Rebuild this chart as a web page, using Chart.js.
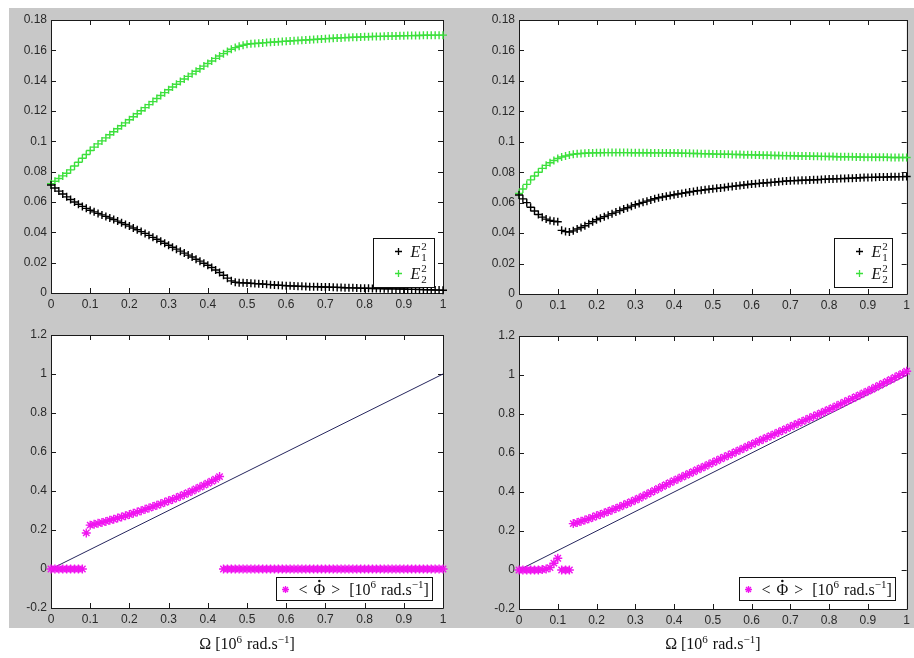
<!DOCTYPE html>
<html>
<head>
<meta charset="utf-8">
<script src="https://cdn.jsdelivr.net/npm/chart.js@4/dist/chart.umd.min.js"></script>
<style>
  html, body { margin: 0; padding: 0; background: #fff; }
  #page { position: relative; width: 914px; height: 658px; overflow: hidden; }
  #bg { position: absolute; left: 9px; top: 8px; width: 905px; height: 620px; background: #c8c8c8; }
  canvas { position: absolute; left: 0; top: 0; }
</style>
</head>
<body>
<div id="page">
  <div id="bg"></div>
  <canvas id="tl" width="914" height="658"></canvas>
  <canvas id="tr" width="914" height="658"></canvas>
  <canvas id="bl" width="914" height="658"></canvas>
  <canvas id="br" width="914" height="658"></canvas>
</div>
<script>
// Omega [10^6 rad/s], shared by every series
const omega = [
  0.00, 0.01, 0.02, 0.03, 0.04, 0.05, 0.06, 0.07, 0.08, 0.09,
  0.10, 0.11, 0.12, 0.13, 0.14, 0.15, 0.16, 0.17, 0.18, 0.19,
  0.20, 0.21, 0.22, 0.23, 0.24, 0.25, 0.26, 0.27, 0.28, 0.29,
  0.30, 0.31, 0.32, 0.33, 0.34, 0.35, 0.36, 0.37, 0.38, 0.39,
  0.40, 0.41, 0.42, 0.43, 0.44, 0.45, 0.46, 0.47, 0.48, 0.49,
  0.50, 0.51, 0.52, 0.53, 0.54, 0.55, 0.56, 0.57, 0.58, 0.59,
  0.60, 0.61, 0.62, 0.63, 0.64, 0.65, 0.66, 0.67, 0.68, 0.69,
  0.70, 0.71, 0.72, 0.73, 0.74, 0.75, 0.76, 0.77, 0.78, 0.79,
  0.80, 0.81, 0.82, 0.83, 0.84, 0.85, 0.86, 0.87, 0.88, 0.89,
  0.90, 0.91, 0.92, 0.93, 0.94, 0.95, 0.96, 0.97, 0.98, 0.99, 1.00
];

// top left: E1^2, E2^2
const e1Left = [
  0.0712, 0.0692, 0.0672, 0.0653, 0.0634, 0.0616, 0.0600, 0.0585, 0.0571, 0.0558,
  0.0546, 0.0535, 0.0525, 0.0515, 0.0505, 0.0495, 0.0485, 0.0474, 0.0463, 0.0452,
  0.0441, 0.0429, 0.0417, 0.0405, 0.0393, 0.0380, 0.0367, 0.0354, 0.0341, 0.0328,
  0.0315, 0.0302, 0.0289, 0.0276, 0.0263, 0.0250, 0.0237, 0.0223, 0.0210, 0.0196,
  0.0183, 0.0168, 0.0152, 0.0135, 0.0117, 0.0098, 0.0080, 0.0071, 0.0068, 0.0067,
  0.0066, 0.0064, 0.0062, 0.0061, 0.0059, 0.0057, 0.0055, 0.0053, 0.0051, 0.0050,
  0.0048, 0.0047, 0.0046, 0.0045, 0.0044, 0.0043, 0.0042, 0.0042, 0.0041, 0.0040,
  0.0040, 0.0039, 0.0038, 0.0037, 0.0036, 0.0035, 0.0034, 0.0034, 0.0033, 0.0032,
  0.0031, 0.0031, 0.0030, 0.0029, 0.0029, 0.0028, 0.0028, 0.0027, 0.0027, 0.0026,
  0.0026, 0.0025, 0.0024, 0.0024, 0.0023, 0.0022, 0.0021, 0.0021, 0.0020, 0.0019, 0.0018
];
const e2Left = [
  0.0720, 0.0737, 0.0755, 0.0772, 0.0790, 0.0812, 0.0837, 0.0862, 0.0888, 0.0913,
  0.0940, 0.0962, 0.0983, 0.1003, 0.1023, 0.1043, 0.1063, 0.1083, 0.1103, 0.1122,
  0.1142, 0.1162, 0.1182, 0.1202, 0.1222, 0.1242, 0.1262, 0.1282, 0.1302, 0.1321,
  0.1340, 0.1358, 0.1376, 0.1394, 0.1411, 0.1428, 0.1445, 0.1462, 0.1479, 0.1496,
  0.1513, 0.1530, 0.1547, 0.1563, 0.1578, 0.1592, 0.1607, 0.1618, 0.1627, 0.1634,
  0.1640, 0.1643, 0.1645, 0.1647, 0.1649, 0.1651, 0.1653, 0.1655, 0.1657, 0.1659,
  0.1660, 0.1662, 0.1664, 0.1665, 0.1667, 0.1668, 0.1670, 0.1671, 0.1673, 0.1675,
  0.1677, 0.1678, 0.1680, 0.1681, 0.1682, 0.1684, 0.1685, 0.1686, 0.1687, 0.1688,
  0.1689, 0.1690, 0.1691, 0.1692, 0.1692, 0.1693, 0.1694, 0.1694, 0.1695, 0.1696,
  0.1696, 0.1697, 0.1697, 0.1698, 0.1698, 0.1699, 0.1699, 0.1700, 0.1700, 0.1700, 0.1700
];

// top right: E1^2, E2^2
const e1Right = [
  0.0650, 0.0625, 0.0600, 0.0570, 0.0545, 0.0522, 0.0505, 0.0492, 0.0483, 0.0478,
  0.0475, 0.0418, 0.0410, 0.0407, 0.0415, 0.0427, 0.0437, 0.0448, 0.0462, 0.0475,
  0.0488, 0.0498, 0.0508, 0.0518, 0.0528, 0.0538, 0.0548, 0.0558, 0.0567, 0.0577,
  0.0586, 0.0594, 0.0602, 0.0610, 0.0618, 0.0626, 0.0632, 0.0637, 0.0642, 0.0647,
  0.0652, 0.0657, 0.0661, 0.0665, 0.0670, 0.0674, 0.0678, 0.0681, 0.0685, 0.0688,
  0.0691, 0.0694, 0.0697, 0.0700, 0.0704, 0.0707, 0.0710, 0.0713, 0.0716, 0.0719,
  0.0722, 0.0724, 0.0727, 0.0729, 0.0731, 0.0733, 0.0735, 0.0737, 0.0740, 0.0742,
  0.0744, 0.0745, 0.0746, 0.0747, 0.0748, 0.0749, 0.0750, 0.0751, 0.0753, 0.0754,
  0.0755, 0.0756, 0.0757, 0.0758, 0.0759, 0.0760, 0.0761, 0.0762, 0.0764, 0.0765,
  0.0766, 0.0766, 0.0767, 0.0768, 0.0768, 0.0769, 0.0770, 0.0770, 0.0771, 0.0771, 0.0772
];
const e2Right = [
  0.0660, 0.0690, 0.0720, 0.0750, 0.0775, 0.0800, 0.0825, 0.0845, 0.0862, 0.0877,
  0.0890, 0.0900, 0.0907, 0.0913, 0.0918, 0.0921, 0.0923, 0.0925, 0.0926, 0.0927,
  0.0928, 0.0928, 0.0929, 0.0929, 0.0929, 0.0929, 0.0929, 0.0929, 0.0929, 0.0928,
  0.0928, 0.0928, 0.0928, 0.0928, 0.0927, 0.0927, 0.0927, 0.0927, 0.0927, 0.0927,
  0.0927, 0.0926, 0.0925, 0.0925, 0.0924, 0.0923, 0.0923, 0.0922, 0.0921, 0.0921,
  0.0920, 0.0919, 0.0919, 0.0918, 0.0918, 0.0917, 0.0916, 0.0916, 0.0915, 0.0915,
  0.0914, 0.0913, 0.0913, 0.0912, 0.0912, 0.0911, 0.0910, 0.0910, 0.0909, 0.0909,
  0.0908, 0.0908, 0.0907, 0.0907, 0.0906, 0.0906, 0.0905, 0.0905, 0.0904, 0.0904,
  0.0903, 0.0903, 0.0902, 0.0902, 0.0902, 0.0901, 0.0901, 0.0900, 0.0900, 0.0899,
  0.0899, 0.0899, 0.0898, 0.0898, 0.0898, 0.0898, 0.0897, 0.0897, 0.0897, 0.0897, 0.0897
];

// bottom: <dPhi/dt>
const phiLeft = [
  0, 0, 0, 0, 0, 0, 0, 0, 0, 0.185,
  0.225, 0.229, 0.234, 0.239, 0.244, 0.250, 0.255, 0.261, 0.267, 0.273,
  0.279, 0.286, 0.292, 0.299, 0.306, 0.313, 0.320, 0.327, 0.334, 0.342,
  0.350, 0.357, 0.365, 0.373, 0.382, 0.391, 0.400, 0.410, 0.420, 0.430,
  0.440, 0.450, 0.460, 0.474, 0, 0, 0, 0, 0, 0,
  0, 0, 0, 0, 0, 0, 0, 0, 0, 0,
  0, 0, 0, 0, 0, 0, 0, 0, 0, 0,
  0, 0, 0, 0, 0, 0, 0, 0, 0, 0,
  0, 0, 0, 0, 0, 0, 0, 0, 0, 0,
  0, 0, 0, 0, 0, 0, 0, 0, 0, 0, 0
];
const phiRight = [
  0, 0, 0, 0, 0, 0, 0.002, 0.005, 0.012, 0.035,
  0.060, 0, 0, 0, 0.238, 0.243, 0.250, 0.256, 0.263, 0.270,
  0.278, 0.285, 0.292, 0.300, 0.308, 0.316, 0.324, 0.333, 0.341, 0.350,
  0.359, 0.368, 0.378, 0.388, 0.398, 0.408, 0.418, 0.428, 0.438, 0.448,
  0.458, 0.467, 0.477, 0.486, 0.495, 0.504, 0.514, 0.523, 0.532, 0.542,
  0.551, 0.560, 0.570, 0.579, 0.588, 0.597, 0.607, 0.616, 0.625, 0.635,
  0.644, 0.653, 0.662, 0.671, 0.680, 0.689, 0.698, 0.707, 0.716, 0.725,
  0.734, 0.743, 0.752, 0.761, 0.770, 0.779, 0.788, 0.796, 0.805, 0.814,
  0.823, 0.832, 0.842, 0.851, 0.861, 0.870, 0.879, 0.889, 0.898, 0.908,
  0.917, 0.927, 0.937, 0.947, 0.957, 0.967, 0.977, 0.988, 0.998, 1.008, 1.019
];

// reference line Omega = <dPhi/dt>
const refX = [0, 1];
const refY = [0, 1];

const xTicks = { min: 0, max: 1, step: 0.1 };
const yTicksTop = { min: 0, max: 0.18, step: 0.02 };
const yTicksBottom = { min: -0.2, max: 1.2, step: 0.2 };

const BLACK = '#000000';
const GREEN = '#3ce03c';
const MAGENTA = '#f014f0';
const NAVY = '#26265e';
const SERIF = '"Liberation Serif", "DejaVu Serif", serif';
const SANS = '"Liberation Sans", Arial, sans-serif';

const pts = (xs, ys) => xs.map((x, i) => ({ x, y: ys[i] }));
const fmt = (v) => String(+(+v).toFixed(2));

// draws a run of text parts, sup/sub scripts included; returns width
function drawRich(ctx, parts, x, y, size, dry) {
  let cx = x;
  for (const p of parts) {
    if (p.gap) { cx += p.gap; continue; }
    const small = Math.round(size * 0.7);
    const s = p.sup ? small : size;
    ctx.font = (p.it ? 'italic ' : '') + s + 'px ' + SERIF;
    let w = ctx.measureText(p.t).width;
    if (!dry) {
      ctx.fillText(p.t, cx, p.sup ? y - size * 0.4 : y);
      if (p.dot) {
        ctx.beginPath();
        ctx.arc(cx + w / 2, y - size * 0.86, size * 0.08, 0, Math.PI * 2);
        ctx.fill();
      }
    }
    if (p.under) {
      ctx.font = small + 'px ' + SERIF;
      w = Math.max(w, ctx.measureText(p.under).width);
      if (!dry) ctx.fillText(p.under, cx, y + size * 0.25);
    }
    cx += w;
  }
  return cx - x;
}

const boxPlugin = {
  id: 'mbox',
  beforeDraw(chart) {
    const { ctx, chartArea: a } = chart;
    ctx.save();
    ctx.fillStyle = '#ffffff';
    ctx.fillRect(a.left, a.top, a.right - a.left, a.bottom - a.top);
    ctx.restore();
  },
  beforeDatasetsDraw(chart) {
    const { ctx, chartArea: a, scales } = chart;
    const L = 5;
    ctx.save();
    ctx.strokeStyle = '#1a1a1a';
    ctx.lineWidth = 1;
    ctx.beginPath();
    ctx.rect(Math.round(a.left) + 0.5, Math.round(a.top) + 0.5,
      Math.round(a.right - a.left), Math.round(a.bottom - a.top));
    scales.x.ticks.forEach((t) => {
      const px = Math.round(scales.x.getPixelForValue(t.value)) + 0.5;
      ctx.moveTo(px, a.bottom); ctx.lineTo(px, a.bottom - L);
      ctx.moveTo(px, a.top); ctx.lineTo(px, a.top + L);
    });
    scales.y.ticks.forEach((t) => {
      const py = Math.round(scales.y.getPixelForValue(t.value)) + 0.5;
      ctx.moveTo(a.left, py); ctx.lineTo(a.left + L, py);
      ctx.moveTo(a.right, py); ctx.lineTo(a.right - L, py);
    });
    ctx.stroke();
    ctx.restore();
  },
  afterDraw(chart) {
    const { ctx, chartArea: a } = chart;
    const lg = chart.options.plugins.mlegend;
    if (lg) {
      const x0 = Math.round(a.right - lg.dr - lg.w) + 0.5;
      const y0 = Math.round(a.bottom - lg.db - lg.h) + 0.5;
      ctx.save();
      ctx.fillStyle = '#ffffff';
      ctx.fillRect(x0, y0, lg.w, lg.h);
      ctx.strokeStyle = '#111111';
      ctx.lineWidth = 1;
      ctx.strokeRect(x0, y0, lg.w, lg.h);
      lg.rows.forEach((r) => {
        ctx.strokeStyle = r.color;
        ctx.fillStyle = r.color;
        ctx.lineWidth = 1.3;
        Chart.helpers.drawPoint(ctx, { pointStyle: r.style, radius: 3.5, rotation: 0, borderWidth: 1.3 },
          x0 + lg.mx, y0 + r.y);
        ctx.fillStyle = '#111111';
        ctx.textBaseline = 'alphabetic';
        drawRich(ctx, r.parts, x0 + lg.tx, y0 + r.y + lg.size * 0.33, lg.size);
      });
      ctx.restore();
    }
    const xt = chart.options.plugins.xtitle;
    if (xt) {
      ctx.save();
      ctx.fillStyle = '#111111';
      ctx.textBaseline = 'alphabetic';
      const w = drawRich(ctx, xt.parts, 0, 0, xt.size, true);
      drawRich(ctx, xt.parts, (a.left + a.right) / 2 - w / 2, xt.y, xt.size);
      ctx.restore();
    }
  }
};

const e1Parts = [{ t: 'E', it: true }, { gap: 1 }, { t: '2', sup: true, under: '1' }];
const e2Parts = [{ t: 'E', it: true }, { gap: 1 }, { t: '2', sup: true, under: '2' }];
const phiParts = [
  { t: '<' }, { gap: 6 }, { t: 'Φ', dot: true }, { gap: 6 }, { t: '>' }, { gap: 9 },
  { t: '[10' }, { t: '6', sup: true }, { gap: 5 }, { t: 'rad.s' }, { t: '\u22121', sup: true }, { t: ']' }
];
const omegaParts = [
  { t: 'Ω' }, { gap: 4 }, { t: '[10' }, { t: '6', sup: true }, { gap: 5 },
  { t: 'rad.s' }, { t: '\u22121', sup: true }, { t: ']' }
];

function makeChart(id, area, yr, datasets, legend, xtitle) {
  const W = 914, H = 658, YW = 50, XH = 20;
  const tickFont = { family: SANS, size: 12 };
  return new Chart(document.getElementById(id), {
    type: 'scatter',
    data: { datasets },
    options: {
      responsive: false,
      animation: false,
      events: [],
      layout: {
        padding: { left: area.left - YW, top: area.top, right: W - area.right, bottom: H - area.bottom - XH }
      },
      plugins: {
        legend: { display: false },
        tooltip: { enabled: false },
        mlegend: legend,
        xtitle: xtitle
      },
      scales: {
        x: {
          type: 'linear', min: xTicks.min, max: xTicks.max,
          grid: { display: false, drawTicks: false },
          border: { display: false },
          ticks: { stepSize: xTicks.step, padding: 4, color: '#2a2a2a', font: tickFont, maxRotation: 0, callback: fmt },
          afterFit: (s) => { s.height = XH; }
        },
        y: {
          type: 'linear', min: yr.min, max: yr.max,
          grid: { display: false, drawTicks: false },
          border: { display: false },
          ticks: { stepSize: yr.step, padding: 4, color: '#2a2a2a', font: tickFont, callback: fmt },
          afterFit: (s) => { s.width = YW; }
        }
      }
    },
    plugins: [boxPlugin]
  });
}

function marks(ys, color, style, r) {
  return {
    data: pts(omega, ys), showLine: false, clip: false,
    pointStyle: style, pointRadius: r, pointBorderWidth: 1.4,
    pointBorderColor: color, pointBackgroundColor: color
  };
}
function refLine() {
  return {
    type: 'line', data: pts(refX, refY), showLine: true, clip: false,
    borderColor: NAVY, borderWidth: 1, pointRadius: 0
  };
}

const eLegend = (dr, db, w) => ({
  dr, db, w, h: 49, mx: 25, tx: 37, size: 16,
  rows: [
    { y: 13, style: 'cross', color: BLACK, parts: e1Parts },
    { y: 35, style: 'cross', color: GREEN, parts: e2Parts }
  ]
});
const phiLegend = (dr, db) => ({
  dr, db, w: 156, h: 23, mx: 9, tx: 22, size: 16,
  rows: [{ y: 12, style: 'star', color: MAGENTA, parts: phiParts }]
});
const omegaTitle = { parts: omegaParts, size: 16, y: 649 };

makeChart('tl', { left: 51, top: 20, right: 443, bottom: 293 }, yTicksTop,
  [marks(e1Left, BLACK, 'cross', 4), marks(e2Left, GREEN, 'cross', 4)], eLegend(9, 6, 61));
makeChart('tr', { left: 519, top: 20, right: 911, bottom: 294 }, yTicksTop,
  [marks(e1Right, BLACK, 'cross', 4), marks(e2Right, GREEN, 'cross', 4)], eLegend(15, 7, 58));
makeChart('bl', { left: 51, top: 335, right: 443, bottom: 608 }, yTicksBottom,
  [marks(phiLeft, MAGENTA, 'star', 4.5), refLine()], phiLegend(11, 8), omegaTitle);
makeChart('br', { left: 519, top: 336, right: 911, bottom: 609 }, yTicksBottom,
  [marks(phiRight, MAGENTA, 'star', 4.5), refLine()], phiLegend(12, 9), omegaTitle);
</script>
</body>
</html>
